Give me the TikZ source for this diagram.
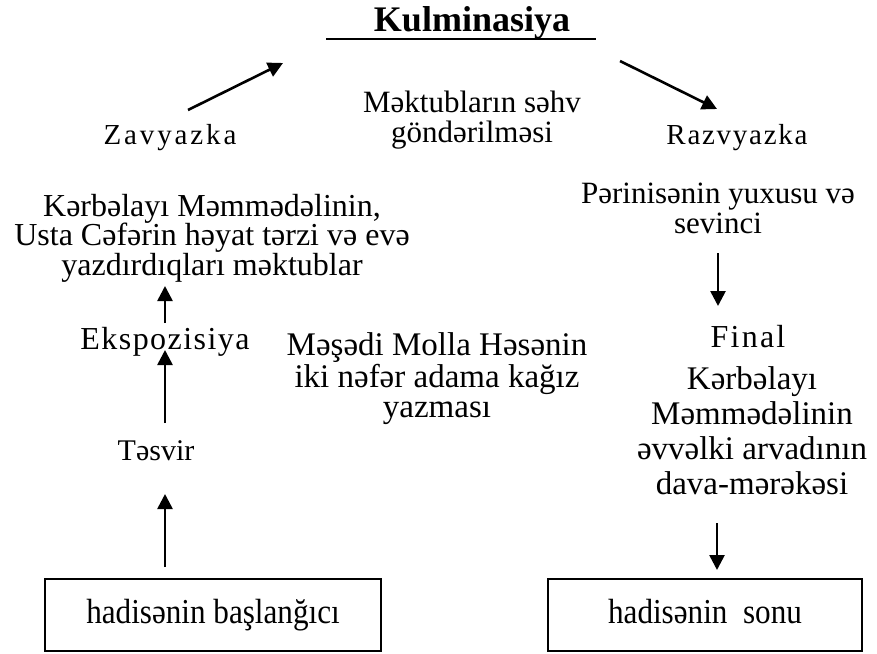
\documentclass[tikz,border=0pt]{standalone}
\usepackage{fontspec}
\setmainfont{Liberation Serif}
\usetikzlibrary{arrows.meta}

\tikzset{
  txt/.style={inner sep=0pt, align=center, anchor=base},
  spaced/.style={inner sep=0pt, anchor=base},
  flow/.style={line width=2.6pt, -{Triangle[length=15pt,width=15pt]}},
  eventbox/.style={draw, line width=2pt, inner sep=0pt, minimum height=72pt,
    text height=24pt, text depth=8pt,
    font=\fontsize{35}{36}\selectfont}
}

\begin{document}
\begin{tikzpicture}[x=1pt,y=-1pt]
\useasboundingbox (0,0) rectangle (877,653);

% title
\node[txt, font=\bfseries\fontsize{36}{36}\selectfont] (kulm) at (472,31) {Kulminasiya};
\draw[line width=2pt] (326,39) -- (596,39);

% stage labels
\node[spaced, font=\fontsize{29}{30}\selectfont\addfontfeature{LetterSpace=10}] (zav) at (170,144) {Zavyazka};
\node[spaced, font=\fontsize{29}{30}\selectfont\addfontfeature{LetterSpace=6}] (raz) at (737,144) {Razvyazka};
\node[spaced, font=\fontsize{32}{30}\selectfont\addfontfeature{LetterSpace=4.5}] (eks) at (165,349) {Ekspozisiya};
\node[spaced, font=\fontsize{32}{30}\selectfont\addfontfeature{LetterSpace=7}] (fin) at (748,347) {Final};
\node[txt, font=\fontsize{30}{30}\selectfont] (tes) at (156,460) {Təsvir};

% event descriptions (anchored at the baseline of their last line)
\node[txt, font=\fontsize{31}{30}\selectfont] (mek) at (472,142) {Məktubların səhv\\göndərilməsi};
\node[txt, font=\fontsize{32}{29.5}\selectfont] (ker) at (212,275)
  {Kərbəlayı Məmmədəlinin,\\Usta Cəfərin həyat tərzi və evə\\yazdırdıqları məktublar};
\node[txt, font=\fontsize{31}{30}\selectfont] (per) at (718,233) {Pərinisənin yuxusu və\\sevinci};
\node[txt, font=\fontsize{33}{30}\selectfont] (mes) at (437,417)
  {Məşədi Molla Həsənin\\iki nəfər adama kağız\\yazması};
\node[txt, font=\fontsize{33}{35}\selectfont] (dav) at (752,494)
  {Kərbəlayı\\Məmmədəlinin\\əvvəlki arvadının\\dava-mərəkəsi};

% start and end boxes
\node[eventbox, minimum width=336pt] (start) at (213,615)
  {\scalebox{0.89}[1]{hadisənin başlanğıcı}};
\node[eventbox, minimum width=314pt] (end) at (705,615)
  {\scalebox{0.89}[1]{hadisənin\ \ sonu}};

% arrow end points
\coordinate (a1s) at (188,110); \coordinate (a1e) at (283,63);
\coordinate (a2s) at (620,61);  \coordinate (a2e) at (717,109);
\coordinate (a3s) at (165,323); \coordinate (a3e) at (165,286);
\coordinate (a4s) at (165,423); \coordinate (a4e) at (165,350);
\coordinate (a5s) at (165,567); \coordinate (a5e) at (165,494);
\coordinate (a6s) at (718,253); \coordinate (a6e) at (718,306);
\coordinate (a7s) at (717,523); \coordinate (a7e) at (717,570);

\draw[flow] (a1s) -- (a1e);
\draw[flow] (a2s) -- (a2e);
\draw[flow] (a3s) -- (a3e);
\draw[flow] (a4s) -- (a4e);
\draw[flow] (a5s) -- (a5e);
\draw[flow] (a6s) -- (a6e);
\draw[flow] (a7s) -- (a7e);
\end{tikzpicture}
\end{document}
